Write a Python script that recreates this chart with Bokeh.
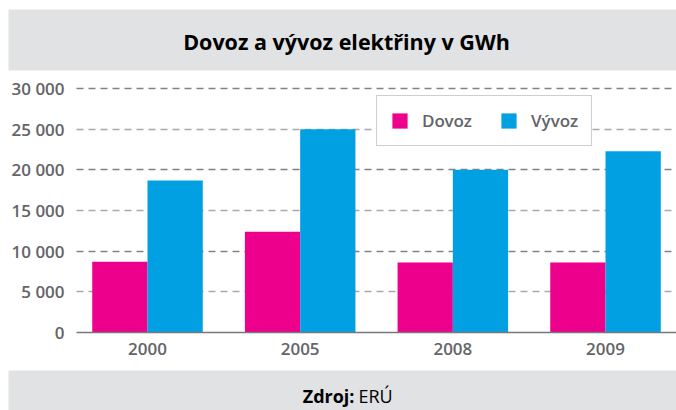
from bokeh.plotting import figure
from bokeh.models import (ColumnDataSource, Range1d, FixedTicker, Grid, Label,
                          BoxAnnotation, LinearAxis)
from bokeh.transform import dodge
from bokeh.embed import file_html
from bokeh.resources import INLINE

# ---- data ----
title_text = "Dovoz a vývoz elektřiny v GWh"
source_bold = "Zdroj:"
source_text = "ERÚ"
years = ["2000", "2005", "2008", "2009"]
dovoz = [8700, 12400, 8600, 8600]
vyvoz = [18700, 25000, 20000, 22300]
series_names = ["Dovoz", "Vývoz"]
y_ticks = [0, 5000, 10000, 15000, 20000, 25000, 30000]
y_tick_labels = ["0", "5 000", "10 000", "15 000", "20 000", "25 000", "30 000"]

# ---- styles / layout (pixels) ----
BAND = "#e1e2e4"
MAGENTA = "#ec008c"
CYAN = "#00a0e3"
LABEL_GRAY = "#646568"
FONT = "Open Sans"
LABEL_FONT = "'Open Sans Semibold', 'Open Sans SemiBold', 'Open Sans'"
W, H = 676, 410
PLOT_LEFT = 76          # where the chart area starts
CAT_PX = 152.67         # pixels per category
FIRST_CENTER = 147      # pixel of first category centre
ZERO_PX = 332           # pixel row of value 0 (from top)
PX_PER_UNIT = 244 / 30000.0

x0 = -FIRST_CENTER / CAT_PX
x1 = x0 + W / CAT_PX
y0 = -(H - ZERO_PX) / PX_PER_UNIT
y1 = ZERO_PX / PX_PER_UNIT
x_left = x0 + PLOT_LEFT / CAT_PX

xs = list(range(len(years)))
src = ColumnDataSource(dict(x=xs, dovoz=dovoz, vyvoz=vyvoz))

p = figure(width=W, height=H, x_range=Range1d(x0, x1), y_range=Range1d(y0, y1),
           toolbar_location=None, output_backend="svg", min_border=0,
           x_axis_type=None, y_axis_type=None)
p.min_border_left = p.min_border_right = p.min_border_top = p.min_border_bottom = 0
p.outline_line_color = None
p.background_fill_color = "white"
p.border_fill_color = "white"

# grids: alternating dark / light dashed lines
g1 = Grid(dimension=1, ticker=FixedTicker(ticks=y_ticks[2::2]),
          grid_line_color="#808285", grid_line_width=1.5, grid_line_dash="7 5",
          cross_bounds=(x_left, x1))
g2 = Grid(dimension=1, ticker=FixedTicker(ticks=y_ticks[1::2]),
          grid_line_color="#a7a9ac", grid_line_width=1.5, grid_line_dash="7 5",
          cross_bounds=(x_left, x1))
p.add_layout(g1)
p.add_layout(g2)

bw = 0.362
p.vbar(x=dodge("x", -bw / 2, range=p.x_range), top="dovoz", width=bw, source=src,
       fill_color=MAGENTA, line_color=None, legend_label=series_names[0])
p.vbar(x=dodge("x", bw / 2, range=p.x_range), top="vyvoz", width=bw, source=src,
       fill_color=CYAN, line_color=None, legend_label=series_names[1])

# axes (drawn at fixed positions inside the frame)
xaxis = LinearAxis(fixed_location=0, ticker=FixedTicker(ticks=xs),
                   major_label_overrides={i: y for i, y in zip(xs, years)},
                   bounds=(x_left, x1))
xaxis.axis_line_color = "#77787b"
xaxis.axis_line_width = 1.5
xaxis.major_tick_line_color = None
xaxis.minor_tick_line_color = None
xaxis.major_tick_out = 0
xaxis.major_tick_in = 0
xaxis.major_label_standoff = 10
xaxis.major_label_text_font = LABEL_FONT
xaxis.major_label_text_font_size = "17px"
xaxis.major_label_text_color = LABEL_GRAY
p.add_layout(xaxis, "below")

yaxis = LinearAxis(fixed_location=x_left, ticker=FixedTicker(ticks=y_ticks),
                   major_label_overrides={t: l for t, l in zip(y_ticks, y_tick_labels)})
yaxis.axis_line_color = None
yaxis.major_tick_line_color = None
yaxis.minor_tick_line_color = None
yaxis.major_tick_out = 0
yaxis.major_tick_in = 0
yaxis.major_label_standoff = 12
yaxis.major_label_text_font = LABEL_FONT
yaxis.major_label_text_font_size = "17px"
yaxis.major_label_text_color = LABEL_GRAY
p.add_layout(yaxis, "left")

# header / footer bands (screen units: from frame bottom-left)
p.add_layout(BoxAnnotation(left=8, right=W, top=H - 9, bottom=H - 70,
                           left_units="screen", right_units="screen",
                           top_units="screen", bottom_units="screen",
                           fill_color=BAND, fill_alpha=1, line_color=None))
p.add_layout(BoxAnnotation(left=8, right=W, top=40, bottom=0,
                           left_units="screen", right_units="screen",
                           top_units="screen", bottom_units="screen",
                           fill_color=BAND, fill_alpha=1, line_color=None))
p.add_layout(Label(x=346, y=H - 41, x_units="screen", y_units="screen", text=title_text,
                   text_align="center", text_baseline="middle", text_font=FONT,
                   text_font_style="bold", text_font_size="21.5px",
                   text_color="#000000"))
p.add_layout(Label(x=354, y=H - 395, x_units="screen", y_units="screen", text=source_bold,
                   text_align="right", text_baseline="middle", text_font=FONT,
                   text_font_style="bold", text_font_size="18px",
                   text_color="#000000"))
p.add_layout(Label(x=358, y=H - 395, x_units="screen", y_units="screen", text=source_text,
                   text_align="left", text_baseline="middle", text_font=FONT,
                   text_font_size="18px", text_color="#000000"))

# legend
lg = p.legend[0]
lg.orientation = "horizontal"
lg.location = (376, H - 146)
lg.glyph_width = 19
lg.glyph_height = 19
lg.label_standoff = 13
lg.spacing = 27
lg.padding = 13
lg.margin = 0
lg.border_line_color = "#9d9fa2"
lg.border_line_width = 1.5
lg.background_fill_color = "white"
lg.background_fill_alpha = 1
lg.label_text_font = LABEL_FONT
lg.label_text_font_size = "17px"
lg.label_text_color = LABEL_GRAY

open("out.html", "w").write(file_html(p, INLINE))
